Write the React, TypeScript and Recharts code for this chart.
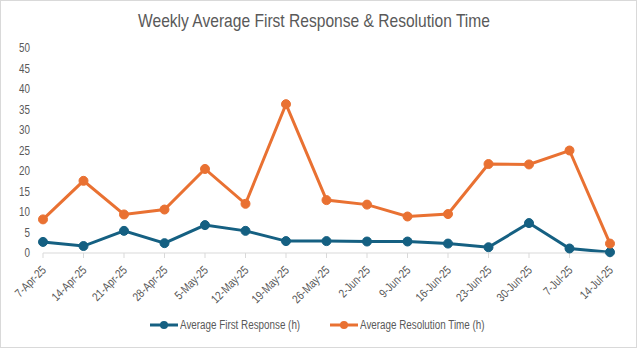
import { LineChart, Line, XAxis, YAxis } from 'recharts'

const weeks = [
  '7-Apr-25', '14-Apr-25', '21-Apr-25', '28-Apr-25', '5-May-25', '12-May-25', '19-May-25', '26-May-25',
  '2-Jun-25', '9-Jun-25', '16-Jun-25', '23-Jun-25', '30-Jun-25', '7-Jul-25', '14-Jul-25',
]
const firstResponse = [2.7, 1.7, 5.4, 2.4, 6.8, 5.4, 2.9, 2.9, 2.8, 2.8, 2.3, 1.4, 7.3, 1.1, 0.2]
const resolutionTime = [8.2, 17.6, 9.4, 10.6, 20.5, 12.0, 36.3, 12.9, 11.8, 8.9, 9.5, 21.7, 21.6, 25.0, 2.3]
const yTicks = [0, 5, 10, 15, 20, 25, 30, 35, 40, 45, 50]

const BLUE = '#156082'
const ORANGE = '#E97132'
const FONT = '"Liberation Sans", Arial, sans-serif'
// no narrow font installed, so squeeze the regular one
const NARROW = 0.82

const chartData = weeks.map((week, i) => ({
  week,
  first: firstResponse[i],
  resolution: resolutionTime[i],
}))

function AngledTick({ x, y, payload }: any) {
  return (
    <g transform={`translate(${x + 1},${y + 8}) rotate(-45) scale(${NARROW},1)`}>
      <text x={0} y={0} dy={4} textAnchor="end" fontSize={12} fill="#595959" fontFamily={FONT}>
        {payload.value}
      </text>
    </g>
  )
}

function ValueTick({ x, y, payload }: any) {
  return (
    <g transform={`translate(${x},${y}) scale(${NARROW},1)`}>
      <text x={0} y={0} dy={4} textAnchor="end" fontSize={12} fill="#595959" fontFamily={FONT}>
        {payload.value}
      </text>
    </g>
  )
}

function LegendItem({ color, label, left }: { color: string; label: string; left: number }) {
  return (
    <div style={{ position: 'absolute', left, top: 0, display: 'flex', alignItems: 'center', whiteSpace: 'nowrap' }}>
      <svg width={28} height={10}>
        <line x1={0} y1={5} x2={28} y2={5} stroke={color} strokeWidth={3} />
        <circle cx={14} cy={5} r={4} fill={color} />
      </svg>
      <span
        style={{
          display: 'inline-block',
          marginLeft: 2,
          fontSize: 12,
          color: '#595959',
          fontFamily: FONT,
          transform: `scaleX(${NARROW})`,
          transformOrigin: 'left center',
        }}
      >
        {label}
      </span>
    </div>
  )
}

export default function App() {
  return (
    <div
      style={{
        position: 'absolute',
        left: 0,
        top: 0,
        width: 635,
        height: 346,
        border: '1px solid #D9D9D9',
        background: 'white',
      }}
    >
      <div
        style={{
          position: 'absolute',
          top: 9,
          left: 0,
          width: 626,
          textAlign: 'center',
          fontSize: 19,
          color: '#595959',
          fontFamily: FONT,
          transform: `scaleX(${NARROW})`,
        }}
      >
        Weekly Average First Response &amp; Resolution Time
      </div>
      <LineChart
        width={635}
        height={346}
        data={chartData}
        margin={{ top: 47, right: 25, bottom: 44, left: 0 }}
        style={{ position: 'absolute', left: -1, top: 0 }}
      >
        <XAxis
          dataKey="week"
          interval={0}
          height={50}
          stroke="#D9D9D9"
          tickSize={5}
          tick={<AngledTick />}
        />
        <YAxis
          domain={[0, 50]}
          ticks={yTicks}
          width={43}
          axisLine={false}
          tickLine={false}
          tickMargin={7}
          interval={0}
          tick={<ValueTick />}
        />
        <Line
          dataKey="first"
          stroke={BLUE}
          strokeWidth={3}
          dot={{ r: 4.5, fill: BLUE, stroke: BLUE, strokeWidth: 1 }}
          isAnimationActive={false}
        />
        <Line
          dataKey="resolution"
          stroke={ORANGE}
          strokeWidth={3}
          dot={{ r: 4.5, fill: ORANGE, stroke: ORANGE, strokeWidth: 1 }}
          isAnimationActive={false}
        />
      </LineChart>
      <div style={{ position: 'absolute', top: 317, left: 0, width: 635, height: 16 }}>
        <LegendItem color={BLUE} label="Average First Response (h)" left={149} />
        <LegendItem color={ORANGE} label="Average Resolution Time (h)" left={329} />
      </div>
    </div>
  )
}
